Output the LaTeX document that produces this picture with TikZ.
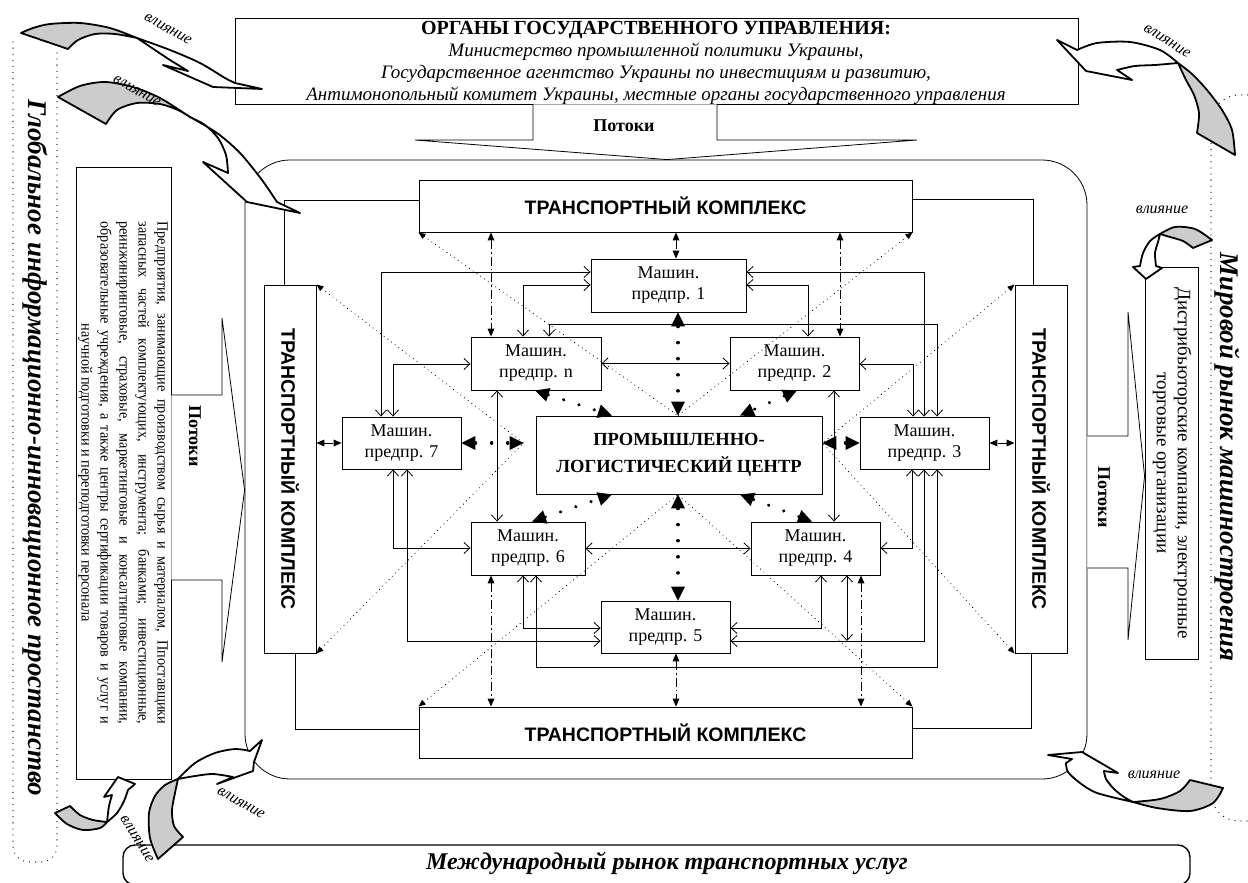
\documentclass[tikz,border=0pt]{standalone}
\usepackage{fontspec}
\usepackage{graphicx}
\setmainfont{Liberation Serif}
\newfontfamily\tksans{Liberation Sans}
\newfontfamily\condserif[FakeStretch=0.92]{Liberation Serif}
\usetikzlibrary{arrows.meta}
\definecolor{infgray}{gray}{0.8}
\begin{document}
\begin{tikzpicture}[x=1pt,y=-1pt,
  box/.style={draw,line width=0.9pt,fill=white,inner sep=0pt,align=center},
  mbox/.style={box,font=\fontsize{18}{21}\selectfont},
  tkbox/.style={box,font=\tksans\bfseries\fontsize{19.5}{21}\selectfont},
  plain/.style={line width=0.8pt},
  link/.style={line width=0.8pt,<->,>={Straight Barb[length=6pt,width=11pt]}},
  ctr/.style={line width=3.4pt,line cap=round,dash pattern=on 0.1pt off 16pt,<->,>={Triangle[length=14pt,width=14pt,line width=0pt]}},
  tkl/.style={line width=0.8pt,dash pattern=on 9pt off 3pt on 1.5pt off 3pt,<->,>={Triangle[length=8pt,width=7pt,line width=0pt]}},
  diag/.style={line width=1.1pt,line cap=round,dash pattern=on 0.1pt off 4.5pt,<-,>={Triangle[length=7pt,width=6pt,line width=0pt]}},
  dotline/.style={line width=1.2pt,line cap=round,dash pattern=on 0.1pt off 6pt},
  flow/.style={draw,line width=0.8pt,fill=white},
  infl/.style={line width=1.8pt,line join=round},
  inftxt/.style={font=\itshape\fontsize{16}{18}\selectfont,inner sep=0pt},
  flowtxt/.style={font=\bfseries\fontsize{18}{20}\selectfont,inner sep=0pt},
  bigtxt/.style={font=\bfseries\itshape\fontsize{27}{30}\selectfont,inner sep=0pt},
]
\useasboundingbox (0,0) rectangle (1248,883);

% outer dotted areas
\draw[dotline,rounded corners=16pt] (13,42) -- (13,862) -- (57,862) -- (57,47);
\draw[dotline,rounded corners=28pt] (1260,95) -- (1211,95) -- (1211,821) -- (1260,821);
\node[bigtxt,rotate=-90] (glob) at (35,448) {Глобальное информационно-инновационное простанство};
\node[bigtxt,rotate=-90] (mir) at (1227,457) {Мировой рынок машиностроения};

% bottom market bar
\node[draw,line width=1.4pt,rounded corners=12pt,minimum width=1067pt,minimum height=40pt,inner sep=0pt] (mbar) at (656.5,865) {};
\node[font=\bfseries\itshape\fontsize{24}{26}\selectfont] (mtxt) at (667,863) {Международный рынок транспортных услуг};

% state bodies
\node[box,minimum width=843pt,minimum height=86pt] (gov) at (656.5,61) {};
\node[anchor=base,font=\bfseries\fontsize{20}{22}\selectfont] (gov1) at (656,35) {ОРГАНЫ ГОСУДАРСТВЕННОГО УПРАВЛЕНИЯ:};
\node[anchor=base,font=\itshape\fontsize{19}{20}\selectfont] (gov2) at (656,57) {Министерство промышленной политики Украины,};
\node[anchor=base,font=\itshape\fontsize{19}{20}\selectfont] (gov3) at (656,78) {Государственное агентство Украины по инвестициям и развитию,};
\node[anchor=base,font=\itshape\fontsize{19}{20}\selectfont] (gov4) at (656,100) {Антимонопольный комитет Украины, местные органы государственного управления};

% main frame
\node[draw,line width=0.8pt,rounded corners=45pt,minimum width=842pt,minimum height=619pt,inner sep=0pt] (frame) at (666,469.5) {};

% side boxes
\node[box,minimum width=89pt,minimum height=612pt] (lbox) at (123.5,473) {\rotatebox{-90}{\condserif\fontsize{15.5}{19}\selectfont\begin{tabular}{@{}c@{}}
\makebox[503pt][s]{Предприятия, занимающие производством сырья и материалом, Ппоставщики}\\
\makebox[503pt][s]{запасных частей комплектующих, инструмента; банками; инвестиционные,}\\
\makebox[503pt][s]{реинжиниринговые, страховые, маркетинговые и консалтинговые компании,}\\
\makebox[503pt][s]{образовательные учреждения, а также центры сертификации товаров и услуг и}\\
научной подготовки и переподготовки персонала\end{tabular}}};
\node[box,minimum width=53pt,minimum height=392pt] (rbox) at (1171.5,463) {\rotatebox{-90}{\fontsize{19}{21}\selectfont\begin{tabular}{@{}c@{}}Дистрибьюторские компании, электронные\\торговые организации\end{tabular}}};

% flow arrows
\draw[flow] (lbox.east |- 0,395) -- (222,395) -- (222,318) -- (frame.west |- 0,490) -- (222,662) -- (222,580) -- (lbox.east |- 0,580);
\node[flowtxt,rotate=-90] (potL) at (195,436) {Потоки};
\draw[flow] (frame.east |- 0,436) -- (1128,436) -- (1128,312) -- (rbox.west |- 0,476) -- (1128,640) -- (1128,568) -- (frame.east |- 0,568);
\node[flowtxt,rotate=-90] (potR) at (1104,497) {Потоки};
\draw[flow] (gov.south -| 533,0) -- (533,140) -- (415,140) -- (frame.north -| 667,0) -- (917,140) -- (717,140) -- (gov.south -| 717,0);
\node[flowtxt] (potT) at (624,126) {Потоки};

% transport complexes
\node[tkbox,minimum width=493pt,minimum height=52pt] (tkT) at (665.5,206) {ТРАНСПОРТНЫЙ КОМПЛЕКС};
\node[tkbox,minimum width=493pt,minimum height=51pt] (tkB) at (665.5,732.5) {ТРАНСПОРТНЫЙ КОМПЛЕКС};
\node[tkbox,minimum width=52pt,minimum height=368pt] (tkL) at (290,469) {\rotatebox{-90}{ТРАНСПОРТНЫЙ КОМПЛЕКС}};
\node[tkbox,minimum width=52pt,minimum height=368pt] (tkR) at (1041,469) {\rotatebox{-90}{ТРАНСПОРТНЫЙ КОМПЛЕКС}};
\draw[plain] (tkL.north -| 284,0) |- (tkT.west |- 0,200);
\draw[plain] (tkT.east |- 0,199) -| (tkR.north -| 1033,0);
\draw[plain] (tkL.south -| 295,0) |- (tkB.west |- 0,729);
\draw[plain] (tkB.east |- 0,728) -| (tkR.south -| 1031,0);

% machine-building enterprises and the centre
\node[mbox,minimum width=155pt,minimum height=53pt] (b1) at (668.5,285.5) {Машин.\\предпр. 1};
\node[mbox,minimum width=130pt,minimum height=53pt] (bn) at (536,363.5) {Машин.\\предпр. n};
\node[mbox,minimum width=129pt,minimum height=53pt] (b2) at (794.5,363.5) {Машин.\\предпр. 2};
\node[mbox,minimum width=119pt,minimum height=52pt] (b7) at (401.5,443) {Машин.\\предпр. 7};
\node[mbox,minimum width=129pt,minimum height=52pt] (b3) at (924.5,443) {Машин.\\предпр. 3};
\node[mbox,minimum width=114pt,minimum height=53pt] (b6) at (528,548.5) {Машин.\\предпр. 6};
\node[mbox,minimum width=129pt,minimum height=53pt] (b4) at (815.5,548.5) {Машин.\\предпр. 4};
\node[mbox,minimum width=129pt,minimum height=52pt] (b5) at (665.5,627) {Машин.\\предпр. 5};
\node[box,font=\bfseries\fontsize{18.5}{27}\selectfont,minimum width=286pt,minimum height=78pt] (plc) at (679,455) {ПРОМЫШЛЕННО-\\ЛОГИСТИЧЕСКИЙ ЦЕНТР};
\coordinate (cl) at ([xshift=-12pt]plc.west |- 0,443);
\coordinate (cr) at (plc.east |- 0,443);
\coordinate (j4) at (847,641);

% enterprise links
\draw[link] (b7.north -| 381,0) |- (b1.west |- 0,272);
\draw[link] (bn.north -| 523,0) |- (b1.west |- 0,285);
\draw[link] (bn.north -| 549,0) |- (937,324) -- (b3.north -| 937,0);
\draw[link] (b7.north -| 393,0) |- (bn.west |- 0,364);
\draw[link] (bn.east) -- (b2.west);
\draw[link] (bn.south -| 497,0) -- (b6.north -| 497,0);
\draw[link] (b1.east |- 0,272) -| (b3.north -| 924,0);
\draw[link] (b1.east |- 0,285) -| (b2.north -| 808,0);
\draw[link] (b2.east |- 0,364) -| (b3.north -| 913,0);
\draw[link] (b2.south -| 834,0) -- (b4.north -| 834,0);
\draw[link] (b7.south -| 393,0) |- (b6.west |- 0,548);
\draw[link] (b7.south -| 407,0) |- (b5.west |- 0,641);
\draw[link] (b6.south -| 523,0) |- (b5.west |- 0,628);
\draw[link] (b6.south -| 536,0) |- (937,667) -- (b3.south -| 937,0);
\draw[link] (b6.east) -- (b4.west);
\draw[link] (b4.east |- 0,548) -| (b3.south -| 912,0);
\draw[link] (b4.south -| 821,0) |- (b5.east |- 0,628);
\draw[link] (b5.east |- 0,641) -| (b3.south -| 924,0);
\draw[link] (b4.south -| 847,0) -- (j4);

% links with the transport complexes
\draw[tkl] (tkT.south -| 491,0) -- (bn.north -| 491,0);
\draw[tkl] (tkT.south -| 676,0) -- (b1.north -| 676,0);
\draw[tkl] (tkT.south -| 840,0) -- (b2.north -| 840,0);
\draw[tkl] (tkL.east |- 0,443) -- (b7.west);
\draw[tkl] (tkR.west |- 0,443) -- (b3.east);
\draw[tkl] (b6.south -| 491,0) -- (tkB.north -| 491,0);
\draw[tkl] (b5.south -| 676,0) -- (tkB.north -| 676,0);
\draw[tkl] (b4.south -| 861,0) -- (tkB.north -| 861,0);

% links with the centre
\draw[ctr] (b1.south -| 678,0) -- (plc.north -| 678,0);
\draw[ctr] (bn.south -| 535,0) -- (plc.north -| 612,0);
\draw[ctr] (b2.south -| 797,0) -- (plc.north -| 740,0);
\draw[ctr] (b7.east) -- (cl);
\draw[ctr] (b3.west) -- (cr);
\draw[ctr] (b6.north -| 532,0) -- (plc.south -| 612,0);
\draw[ctr] (b4.north -| 812,0) -- (plc.south -| 740,0);
\draw[ctr] (plc.south -| 678,0) -- (b5.north -| 678,0);

% diagonals from the transport complexes
\draw[diag] (tkT.south west) -- (plc.north -| 678,0);
\draw[diag] (tkT.south east) -- (plc.north -| 678,0);
\draw[diag] (tkB.north west) -- (plc.south -| 678,0);
\draw[diag] (tkB.north east) -- (plc.south -| 678,0);
\draw[diag] (tkL.north east) -- (cl);
\draw[diag] (tkL.south east) -- (cl);
\draw[diag] (tkR.north west) -- (cr);
\draw[diag] (tkR.south west) -- (cr);

% influence arrows
\draw[infl,fill=infgray] plot[smooth] coordinates {(137,38) (110,28) (80,23) (50,24) (33,28) (21,33)} -- (68,49) -- plot[smooth] coordinates {(68,49) (78,40) (95,34) (115,34) (137,38)} -- cycle;
\draw[infl,fill=white] plot[smooth] coordinates {(137,38) (170,50) (200,63) (225,78) (235,83)} -- (262,89) -- (213,87) -- (163,65) -- (188,71) -- plot[smooth] coordinates {(188,71) (170,60) (155,50) (137,38)} -- cycle;
\node[inftxt,rotate=-30] (v1) at (168,29) {влияние};

\draw[infl,fill=infgray] plot[smooth] coordinates {(190,117) (160,98) (133,87) (105,82) (80,86) (58,97)} -- (106,124) -- plot[smooth] coordinates {(106,124) (117,110) (137,103) (160,104) (178,110) (190,117)} -- cycle;
\draw[infl,fill=white] plot[smooth] coordinates {(190,117) (217,133) (240,153) (262,180) (277,202)} -- (300,213) -- (247,202) -- (203,162) -- (228,173) -- plot[smooth] coordinates {(228,173) (226,155) (218,138) (205,125) (190,117)} -- cycle;
\node[inftxt,rotate=-30] (v2) at (137,91) {влияние};

\draw[infl,fill=infgray] plot[smooth] coordinates {(1178,63) (1192,74) (1207,90) (1222,110) (1232,130) (1235,155)} -- (1197,133) -- plot[smooth] coordinates {(1197,133) (1199,113) (1194,95) (1186,80) (1178,63)} -- cycle;
\draw[infl,fill=white] plot[smooth] coordinates {(1178,63) (1160,50) (1130,42) (1097,43) (1077,50)} -- (1057,40) -- (1086,71) -- (1132,80) -- (1117,70) -- plot[smooth] coordinates {(1117,70) (1135,66) (1155,65) (1178,63)} -- cycle;
\node[inftxt,rotate=-32] (v3) at (1167,41) {влияние};

\draw[infl,fill=infgray] plot[smooth] coordinates {(1160,234) (1175,227) (1195,229) (1212,240)} -- (1193,248) -- plot[smooth] coordinates {(1193,248) (1183,241) (1170,237) (1160,234)} -- cycle;
\draw[infl,fill=white] plot[smooth] coordinates {(1160,234) (1150,241) (1143,253) (1140,266)} -- (1133,267) -- (1146,279) -- (1162,268) -- (1156,266) -- plot[smooth] coordinates {(1156,266) (1155,253) (1158,242) (1160,234)} -- cycle;
\node[inftxt] (v4) at (1162,210) {влияние};

\draw[infl,fill=infgray] plot[smooth] coordinates {(1133,802) (1157,808) (1190,811) (1213,803) (1223,788)} -- (1190,780) -- plot[smooth] coordinates {(1190,780) (1180,791) (1160,799) (1133,802)} -- cycle;
\draw[infl,fill=white] plot[smooth] coordinates {(1133,802) (1097,793) (1080,783) (1068,772) (1066,763)} -- (1072,759) -- (1048,755) -- (1082,752) -- (1118,773) -- (1104,771) -- plot[smooth] coordinates {(1104,771) (1106,779) (1114,789) (1124,797) (1133,802)} -- cycle;
\node[inftxt] (v5) at (1154,775) {влияние};

\draw[infl,fill=infgray] plot[smooth] coordinates {(178,779) (165,785) (155,796) (149,813) (150,838) (158,859)} -- (183,837) -- plot[smooth] coordinates {(183,837) (174,826) (172,810) (175,793) (178,779)} -- cycle;
\draw[infl,fill=white] plot[smooth] coordinates {(178,779) (195,763) (215,753) (235,749) (250,751)} -- (262,740) -- (254,762) -- (253,771) -- (217,784) -- (233,777) -- plot[smooth] coordinates {(233,777) (213,774) (195,776) (178,779)} -- cycle;
\node[inftxt,rotate=-30] (v6) at (241,803) {влияние};

\draw[infl,fill=infgray] plot[smooth] coordinates {(107,822) (100,828) (83,830) (67,824) (55,813)} -- (70,806) -- plot[smooth] coordinates {(70,806) (80,815) (93,820) (107,822)} -- cycle;
\draw[infl,fill=white] plot[smooth] coordinates {(107,822) (117,813) (124,801) (128,790)} -- (135,784) -- (118,777) -- (104,797) -- (112,795) -- plot[smooth] coordinates {(112,795) (109,806) (107,822)} -- cycle;
\node[inftxt,rotate=-58] (v7) at (137,839) {влияние};
\end{tikzpicture}
\end{document}
